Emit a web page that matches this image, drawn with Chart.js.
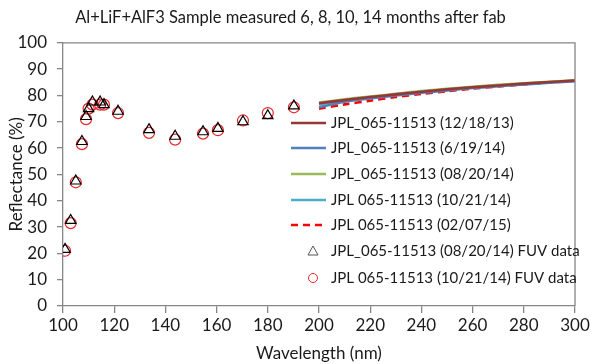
<!DOCTYPE html>
<html lang="en">
   <head>
      <meta charset="UTF-8" />
      <script src="https://cdn.jsdelivr.net/npm/chart.js@4.4.0/dist/chart.umd.min.js"></script>
      <title>Reflectance</title>
      <style>
         body { margin: 0; background: #fff; }
         #wrap { width: 595px; height: 364px; }
      </style>
   </head>
   <body>
      <div id="wrap"><canvas id="chart" width="595" height="364"></canvas></div>
      <script>
         // spectrometer curves, 200-300 nm
         const lineWl = [200, 210, 220, 230, 240, 250, 260, 270, 280, 290, 300];
         const refl121813 = [77.0, 78.3, 79.4, 80.4, 81.4, 82.3, 83.1, 83.8, 84.5, 85.1, 85.7];
         const refl061914 = [75.5, 77.6, 78.9, 80.0, 81.0, 81.9, 82.8, 83.5, 84.2, 84.8, 85.4];
         const refl082014 = [77.3, 78.5, 79.6, 80.6, 81.7, 82.5, 83.3, 84.0, 84.6, 85.2, 85.8];
         const refl102114 = [76.6, 78.0, 79.2, 80.3, 81.3, 82.2, 83.0, 83.7, 84.4, 85.0, 85.6];
         const refl020715 = [75.0, 76.6, 78.0, 79.4, 80.6, 81.6, 82.6, 83.4, 84.2, 84.9, 85.6];

         // FUV points
         const fuvWl = [100.8, 103, 105, 107.4, 109, 110, 111.5, 114.5, 116, 121.5, 133.6, 143.8, 154.7, 160.5, 170.3, 180, 190.2];
         const fuv082014 = [21.5, 32.5, 47.5, 62.5, 72, 75, 77.5, 77.5, 76.5, 74, 67, 64.5, 66.2, 67.5, 70, 72.3, 76];
         const fuv102114 = [21, 31.5, 47, 61.5, 71, 75, 76.5, 76.5, 76.5, 73.3, 65.8, 63.2, 65.5, 66.8, 70.5, 73.3, 75.5];

         const labels = [
            'JPL_065-11513 (12/18/13)',
            'JPL_065-11513 (6/19/14)',
            'JPL_065-11513 (08/20/14)',
            'JPL 065-11513 (10/21/14)',
            'JPL 065-11513 (02/07/15)',
            'JPL_065-11513 (08/20/14) FUV data',
            'JPL 065-11513 (10/21/14) FUV data'
         ];

         const FONT = 'Lato, "Open Sans", sans-serif';
         const AXIS = '#868686';

         function pts(xs, ys) {
            return xs.map((x, i) => ({ x: x, y: ys[i] }));
         }

         function lineSet(label, ys, color, dash) {
            return {
               label: label,
               data: pts(lineWl, ys),
               showLine: true,
               borderColor: color,
               backgroundColor: color,
               borderWidth: 2.6,
               borderDash: dash || [],
               pointRadius: 0,
               tension: 0.3
            };
         }

         const datasets = [
            lineSet(labels[0], refl121813, '#953735'),
            lineSet(labels[1], refl061914, '#4f81bd'),
            lineSet(labels[2], refl082014, '#9bbb59'),
            lineSet(labels[3], refl102114, '#4bacc6'),
            lineSet(labels[4], refl020715, '#ff0000', [7, 5]),
            {
               label: labels[5],
               data: pts(fuvWl, fuv082014),
               pointStyle: 'triangle',
               pointRadius: 6,
               borderColor: '#000',
               backgroundColor: 'rgba(0,0,0,0)',
               pointBorderWidth: 1.2
            },
            {
               label: labels[6],
               data: pts(fuvWl, fuv102114),
               pointStyle: 'circle',
               pointRadius: 5.5,
               borderColor: '#e8262a',
               backgroundColor: 'rgba(0,0,0,0)',
               pointBorderWidth: 1.2
            }
         ];

         // box on top / right, and the legend inside the plot
         const boxAndLegend = {
            id: 'boxAndLegend',
            afterDraw(chart) {
               const c = chart.ctx;
               const a = chart.chartArea;
               c.save();
               c.strokeStyle = AXIS;
               c.lineWidth = 1.3;
               c.beginPath();
               c.moveTo(a.left, a.top);
               c.lineTo(a.right, a.top);
               c.lineTo(a.right, a.bottom);
               c.stroke();

               const rows = [123, 148, 174, 200, 225, 251, 278];
               c.font = '15px ' + FONT;
               c.textBaseline = 'middle';
               chart.data.datasets.forEach((ds, i) => {
                  const y = rows[i];
                  if (ds.showLine) {
                     c.strokeStyle = ds.borderColor;
                     c.lineWidth = ds.borderWidth;
                     c.setLineDash(ds.borderDash);
                     c.beginPath();
                     c.moveTo(291, y);
                     c.lineTo(326, y);
                     c.stroke();
                     c.setLineDash([]);
                  } else if (ds.pointStyle === 'triangle') {
                     c.strokeStyle = '#555';
                     c.lineWidth = 1;
                     c.beginPath();
                     c.moveTo(313, y - 5);
                     c.lineTo(318, y + 4);
                     c.lineTo(308, y + 4);
                     c.closePath();
                     c.stroke();
                  } else {
                     c.strokeStyle = ds.borderColor;
                     c.lineWidth = 1;
                     c.beginPath();
                     c.arc(313, y, 4.5, 0, Math.PI * 2);
                     c.stroke();
                  }
                  c.fillStyle = '#1a1a1a';
                  c.fillText(ds.label, 331, y);
               });
               c.restore();
            }
         };

         const ctx = document.getElementById('chart').getContext('2d');
         const chart = new Chart(ctx, {
            type: 'scatter',
            data: { datasets: datasets },
            options: {
               responsive: false,
               animation: false,
               layout: { padding: { left: 6, right: 20, top: 0, bottom: 0 } },
               plugins: {
                  legend: { display: false },
                  tooltip: { enabled: false },
                  title: {
                     display: true,
                     text: 'Al+LiF+AlF3 Sample measured 6, 8, 10, 14 months after fab',
                     color: '#1a1a1a',
                     font: { family: FONT, size: 16.5, weight: 'normal' },
                     padding: { top: 8, bottom: 15 }
                  }
               },
               scales: {
                  x: {
                     type: 'linear',
                     min: 100,
                     max: 300,
                     ticks: {
                        stepSize: 20,
                        color: '#1a1a1a',
                        font: { family: FONT, size: 17 },
                        padding: 2,
                        maxRotation: 0
                     },
                     grid: { drawOnChartArea: false, tickLength: 7, color: AXIS, lineWidth: 1.3 },
                     border: { color: AXIS, width: 1.3 },
                     title: {
                        display: true,
                        text: 'Wavelength (nm)',
                        color: '#1a1a1a',
                        font: { family: FONT, size: 17 },
                        padding: { top: -9, bottom: 0 }
                     },
                     afterFit(s) { s.height = 58; }
                  },
                  y: {
                     min: 0,
                     max: 100,
                     ticks: {
                        stepSize: 10,
                        color: '#1a1a1a',
                        font: { family: FONT, size: 17 },
                        padding: 10
                     },
                     grid: { drawOnChartArea: false, tickLength: 6, color: AXIS, lineWidth: 1.3 },
                     border: { color: AXIS, width: 1.3 },
                     title: {
                        display: true,
                        text: 'Reflectance (%)',
                        color: '#1a1a1a',
                        font: { family: FONT, size: 17 },
                        padding: 0
                     },
                     afterFit(s) { s.width = 57; }
                  }
               }
            },
            plugins: [boxAndLegend]
         });
      </script>
</body>
</html>
